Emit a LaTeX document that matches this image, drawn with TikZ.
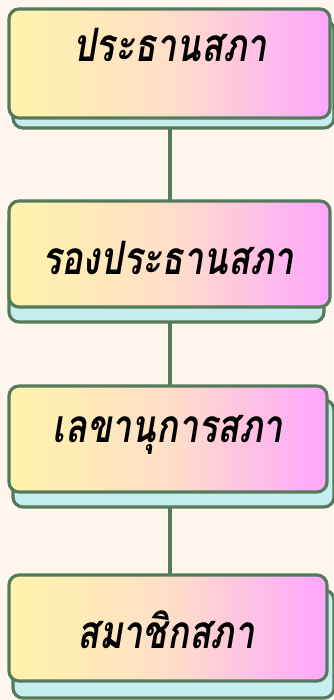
\documentclass[tikz,border=0pt]{standalone}
\usepackage{fontspec}
\newfontfamily\thaifont[Script=Thai,FakeStretch=0.78]{Loma}
\definecolor{bgc}{HTML}{FFF7EE}
\definecolor{edgec}{HTML}{557A5C}
\definecolor{yelc}{HTML}{FFF4AA}
\definecolor{peachc}{HTML}{FFDFC8}
\definecolor{pinkc}{HTML}{FFA6FF}
\definecolor{shc}{HTML}{C6EEEE}
\tikzset{
  mainbox/.style={draw=edgec, line width=3.2pt, rounded corners=10pt, left color=yelc, right color=pinkc, middle color=peachc},
  shadowbox/.style={draw=edgec, line width=3.2pt, rounded corners=10pt, fill=shc},
  label/.style={font=\thaifont\bfseries\itshape\fontsize{46}{50}\selectfont, text=black, inner sep=0pt},
  conn/.style={draw=edgec, line width=3.5pt}
}
\begin{document}
\begin{tikzpicture}[x=1pt,y=-1pt]
\useasboundingbox[fill=bgc] (0,0) rectangle (333,700);
% connector coordinates
\coordinate (c1) at (170,125);
\coordinate (c2) at (170,202);
\coordinate (c3) at (170,320);
\coordinate (c4) at (170,387);
\coordinate (c5) at (170,505);
\coordinate (c6) at (170,576);
\draw[conn] (c1) -- (c2);
\draw[conn] (c3) -- (c4);
\draw[conn] (c5) -- (c6);
% box 1
\path[shadowbox] (13,20) rectangle (334,128);
\path[mainbox] (9,9) rectangle (330,118);
\node[label] (t1) at (170,45) {ประธานสภา};
% box 2
\path[shadowbox] (9,214) rectangle (324,322);
\path[mainbox] (9,201) rectangle (330,307);
\node[label] (t2) at (168,258) {รองประธานสภา};
% box 3
\path[shadowbox] (13,400) rectangle (334,507);
\path[mainbox] (9,386) rectangle (327,492);
\node[label] (t3) at (168,435) {เลขานุการสภา};
% box 4
\path[shadowbox] (13,590) rectangle (334,698);
\path[mainbox] (9,575) rectangle (327,681);
\node[label] (t4) at (166,630) {สมาชิกสภา};
\end{tikzpicture}
\end{document}
